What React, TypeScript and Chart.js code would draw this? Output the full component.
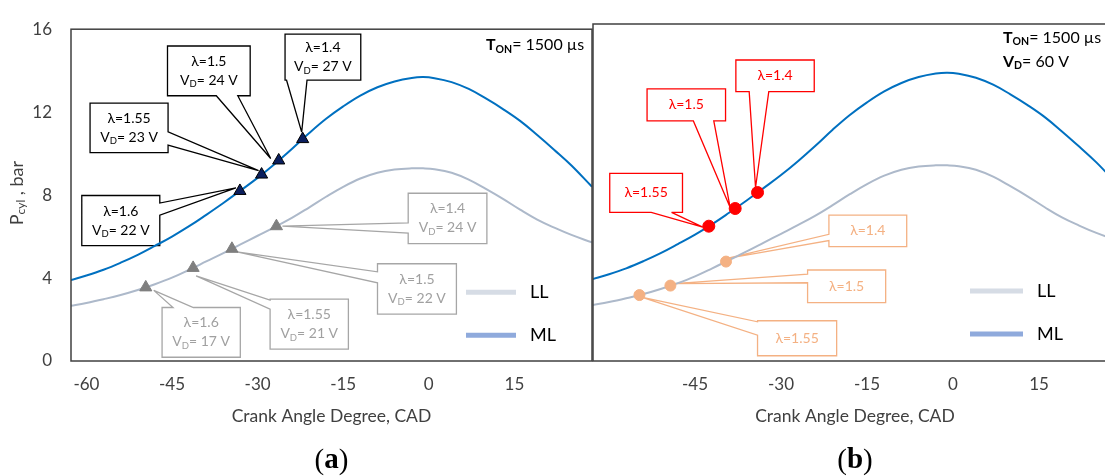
import React, { useEffect, useRef } from 'react';
import { Chart, registerables } from 'chart.js';
Chart.register(...registerables);

const FONT = 'Lato, "Open Sans", sans-serif';
const SERIF = '"Liberation Serif", "DejaVu Serif", serif';

// ---------- data ----------
const CAD = [-63, -60, -57, -54, -51, -48, -45, -42, -39, -36, -33, -30, -27, -24, -21, -18, -15, -12, -9, -6, -3, -1, 1, 4, 7, 10, 13, 16, 19, 22, 25, 28.6];
const P_ML = [3.88, 4.12, 4.40, 4.74, 5.12, 5.55, 6.00, 6.50, 7.05, 7.62, 8.22, 8.83, 9.50, 10.22, 10.98, 11.68, 12.28, 12.80, 13.20, 13.48, 13.65, 13.69, 13.64, 13.45, 13.12, 12.66, 12.15, 11.58, 10.90, 10.18, 9.43, 8.40];
const P_LL = [2.65, 2.80, 2.98, 3.18, 3.42, 3.70, 4.02, 4.40, 4.80, 5.20, 5.62, 6.04, 6.46, 6.90, 7.40, 7.92, 8.40, 8.80, 9.08, 9.23, 9.29, 9.29, 9.25, 9.08, 8.75, 8.30, 7.82, 7.30, 6.82, 6.43, 6.08, 5.72];

const X_TICKS_A = [-60, -45, -30, -15, 0, 15];
const X_TICKS_B = [-45, -30, -15, 0, 15];
const Y_TICKS = [0, 4, 8, 12, 16];

// panel (a) markers
const A_ML_LAMBDA = ['1.6', '1.55', '1.5', '1.4'];
const A_ML_VD = [22, 23, 24, 27];
const A_ML_CAD = [-33.1, -29.3, -26.3, -22.1];
const A_ML_P = [8.20, 8.99, 9.67, 10.70];

const A_LL_LAMBDA = ['1.6', '1.55', '1.5', '1.4'];
const A_LL_VD = [17, 21, 22, 24];
const A_LL_CAD = [-49.6, -41.3, -34.5, -26.7];
const A_LL_P = [3.55, 4.49, 5.41, 6.50];

// panel (b) markers
const B_ML_LAMBDA = ['1.55', '1.5', '1.4'];
const B_ML_CAD = [-42.6, -38.0, -34.1];
const B_ML_P = [6.40, 7.24, 8.00];

const B_LL_LAMBDA = ['1.4', '1.5', '1.55'];
const B_LL_CAD = [-39.6, -49.3, -54.7];
const B_LL_P = [4.72, 3.58, 3.13];

// ---------- callout layout (box in axis units: x1, x2, yTop, yBottom) ----------
type Side = 'top' | 'bottom' | 'left' | 'right';
type CalloutLayout = { box: [number, number, number, number]; side: Side; base: [number, number]; tip: [number, number] };

const A_ML_CALLOUTS: CalloutLayout[] = [
  { box: [-60.81, -47.14, 7.98, 5.56], side: 'right', base: [0.15, 0.39], tip: [-4, -3] },
  { box: [-59.36, -45.69, 12.44, 10.05], side: 'right', base: [0.58, 0.85], tip: [-3, -4] },
  { box: [-45.79, -31.30, 15.19, 12.79], side: 'bottom', base: [0.59, 0.85], tip: [-8, -2] },
  { box: [-25.19, -11.92, 15.76, 13.54], side: 'bottom', base: [0.02, 0.29], tip: [-1, -7] },
];
const A_LL_CALLOUTS: CalloutLayout[] = [
  { box: [-46.74, -33.03, 2.58, 0.18], side: 'top', base: [0.14, 0.40], tip: [8, 3] },
  { box: [-27.81, -14.09, 2.98, 0.57], side: 'left', base: [0.02, 0.2], tip: [3, 8] },
  { box: [-8.99, 4.84, 4.69, 2.26], side: 'left', base: [0.16, 0.38], tip: [5, 3] },
  { box: [-3.61, 10.18, 8.09, 5.66], side: 'left', base: [0.59, 0.79], tip: [6, 0] },
];
const B_ML_CALLOUTS: CalloutLayout[] = [
  { box: [-59.88, -47.19, 8.91, 7.06], side: 'bottom', base: [0.57, 0.85], tip: [-6, 1] },
  { box: [-53.37, -39.68, 12.92, 11.40], side: 'bottom', base: [0.59, 0.85], tip: [-5, -1] },
  { box: [-37.88, -24.21, 14.29, 12.79], side: 'bottom', base: [0.17, 0.42], tip: [-2, -5] },
];
const B_LL_CALLOUTS: CalloutLayout[] = [
  { box: [-21.65, -8.08, 6.93, 5.43], side: 'left', base: [0.61, 0.81], tip: [0, -3] },
  { box: [-25.37, -11.75, 4.32, 2.77], side: 'left', base: [0.13, 0.39], tip: [4, -2] },
  { box: [-34.10, -20.30, 1.91, 0.25], side: 'left', base: [0.03, 0.41], tip: [2, 2] },
];

// ---------- text helpers ----------
type Run = { t: string; size: number; bold?: boolean; dy?: number; family?: string };

function setFont(ctx: CanvasRenderingContext2D, r: Run) {
  ctx.font = `${r.bold ? 'bold ' : ''}${r.size}px ${r.family || FONT}`;
}
function runsWidth(ctx: CanvasRenderingContext2D, runs: Run[]) {
  let w = 0;
  for (const r of runs) { setFont(ctx, r); w += ctx.measureText(r.t).width; }
  return w;
}
function drawRuns(ctx: CanvasRenderingContext2D, runs: Run[], x: number, y: number, align: 'left' | 'center', color: string) {
  const w = runsWidth(ctx, runs);
  let cx = align === 'center' ? x - w / 2 : x;
  ctx.fillStyle = color;
  ctx.textAlign = 'left';
  ctx.textBaseline = 'middle';
  for (const r of runs) {
    setFont(ctx, r);
    ctx.fillText(r.t, cx, y + (r.dy || 0));
    cx += ctx.measureText(r.t).width;
  }
}

function calloutPath(ctx: CanvasRenderingContext2D, x1: number, y1: number, x2: number, y2: number, side: Side, a: number, b: number, tx: number, ty: number) {
  const ax = x1 + (x2 - x1) * a, bx = x1 + (x2 - x1) * b;
  const ay = y1 + (y2 - y1) * a, by = y1 + (y2 - y1) * b;
  ctx.beginPath();
  ctx.moveTo(x1, y1);
  if (side === 'top') { ctx.lineTo(ax, y1); ctx.lineTo(tx, ty); ctx.lineTo(bx, y1); }
  ctx.lineTo(x2, y1);
  if (side === 'right') { ctx.lineTo(x2, ay); ctx.lineTo(tx, ty); ctx.lineTo(x2, by); }
  ctx.lineTo(x2, y2);
  if (side === 'bottom') { ctx.lineTo(bx, y2); ctx.lineTo(tx, ty); ctx.lineTo(ax, y2); }
  ctx.lineTo(x1, y2);
  if (side === 'left') { ctx.lineTo(x1, by); ctx.lineTo(tx, ty); ctx.lineTo(x1, ay); }
  ctx.closePath();
}

type CalloutGroup = {
  layout: CalloutLayout[];
  cad: number[];
  p: number[];
  color: string;
  textColor: string;
  lines: (i: number) => Run[][];
};

type PanelCfg = {
  yTitle: boolean;
  caption: string;
  legend: { x1: number; x2: number; tx: number; yLL: number; yML: number };
  info: { x: number; y: number; runs: Run[] }[];
  groups: CalloutGroup[];
};

const lambdaLine = (l: string): Run[] => [{ t: `λ=${l}`, size: 14 }];
const vdLine = (v: number): Run[] => [{ t: 'V', size: 14 }, { t: 'D', size: 9.5, dy: 4 }, { t: `= ${v} V`, size: 14 }];

const makeDeco = (cfg: PanelCfg) => ({
  id: 'deco',
  beforeDatasetsDraw(chart: any) {
    const { ctx } = chart;
    const xs = chart.scales.x, ys = chart.scales.y;
    for (const g of cfg.groups) {
      g.layout.forEach((c, i) => {
        const x1 = xs.getPixelForValue(c.box[0]), x2 = xs.getPixelForValue(c.box[1]);
        const y1 = ys.getPixelForValue(c.box[2]), y2 = ys.getPixelForValue(c.box[3]);
        const tx = xs.getPixelForValue(g.cad[i]) + c.tip[0];
        const ty = ys.getPixelForValue(g.p[i]) + c.tip[1];
        ctx.save();
        calloutPath(ctx, x1, y1, x2, y2, c.side, c.base[0], c.base[1], tx, ty);
        ctx.fillStyle = '#ffffff';
        ctx.fill();
        ctx.strokeStyle = g.color;
        ctx.lineWidth = 1.3;
        ctx.lineJoin = 'miter';
        ctx.miterLimit = 3;
        ctx.stroke();
        const lines = g.lines(i);
        const cx = (x1 + x2) / 2, cy = (y1 + y2) / 2;
        lines.forEach((runs, k) => drawRuns(ctx, runs, cx, cy + (k - (lines.length - 1) / 2) * 19, 'center', g.textColor));
        ctx.restore();
      });
    }
  },
  afterDraw(chart: any) {
    const { ctx, chartArea: ca } = chart;
    ctx.save();
    // frame
    ctx.strokeStyle = '#404040';
    ctx.lineWidth = 1.5;
    ctx.strokeRect(ca.left, ca.top, ca.right - ca.left, ca.bottom - ca.top);
    // legend
    const L = cfg.legend;
    ctx.lineWidth = 5;
    ctx.lineCap = 'butt';
    ctx.strokeStyle = '#D6DCE5';
    ctx.beginPath(); ctx.moveTo(ca.left + L.x1, ca.top + L.yLL); ctx.lineTo(ca.left + L.x2, ca.top + L.yLL); ctx.stroke();
    ctx.strokeStyle = '#8FAADC';
    ctx.beginPath(); ctx.moveTo(ca.left + L.x1, ca.top + L.yML); ctx.lineTo(ca.left + L.x2, ca.top + L.yML); ctx.stroke();
    drawRuns(ctx, [{ t: 'LL', size: 18 }], ca.left + L.tx, ca.top + L.yLL, 'left', '#000');
    drawRuns(ctx, [{ t: 'ML', size: 18 }], ca.left + L.tx, ca.top + L.yML, 'left', '#000');
    // info text
    for (const it of cfg.info) drawRuns(ctx, it.runs, ca.left + it.x, ca.top + it.y, 'left', '#000');
    // x title + caption
    const mid = (ca.left + ca.right) / 2;
    drawRuns(ctx, [{ t: 'Crank Angle Degree, CAD', size: 17.5 }], mid, ca.bottom + 55, 'center', '#404040');
    drawRuns(ctx, [
      { t: '(', size: 29, family: SERIF },
      { t: cfg.caption, size: 29, bold: true, family: SERIF },
      { t: ')', size: 29, family: SERIF },
    ], mid, ca.bottom + 100, 'center', '#000');
    // y title
    if (cfg.yTitle) {
      ctx.translate(17, (ca.top + ca.bottom) / 2 - 2);
      ctx.rotate(-Math.PI / 2);
      drawRuns(ctx, [{ t: 'P', size: 18 }, { t: 'cyl', size: 12, dy: 4 }, { t: ' , bar', size: 18 }], 0, 0, 'center', '#404040');
    }
    ctx.restore();
  },
});

const pts = (xs: number[], ys: number[]) => xs.map((x, i) => ({ x, y: ys[i] }));

function buildChart(canvas: HTMLCanvasElement, opt: {
  xMin: number; xMax: number; xTicks: number[]; showY: boolean; pad: { left: number; right: number };
  markers: any[]; cfg: PanelCfg;
}) {
  const lineDs = [
    { label: 'ML', data: pts(CAD, P_ML), borderColor: '#0070C0', borderWidth: 2, pointRadius: 0, tension: 0.4, fill: false },
    { label: 'LL', data: pts(CAD, P_LL), borderColor: '#ADB9CA', borderWidth: 2, pointRadius: 0, tension: 0.4, fill: false },
  ];
  return new Chart(canvas, {
    type: 'line',
    data: { datasets: [...opt.markers, ...lineDs] as any },
    options: {
      responsive: false,
      maintainAspectRatio: false,
      animation: false,
      events: [],
      layout: { padding: { left: opt.pad.left, right: opt.pad.right, top: 24, bottom: 0 } },
      plugins: { legend: { display: false }, tooltip: { enabled: false } },
      scales: {
        x: {
          type: 'linear', min: opt.xMin, max: opt.xMax,
          grid: { display: false, drawTicks: false }, border: { display: false },
          ticks: { padding: 13, color: '#404040', font: { family: FONT, size: 17 } },
          afterBuildTicks: (s: any) => { s.ticks = opt.xTicks.map(v => ({ value: v })); },
          afterFit: (s: any) => { s.height = 115; },
        },
        y: {
          type: 'linear', min: 0, max: 16, display: opt.showY,
          grid: { display: false, drawTicks: false }, border: { display: false },
          ticks: { padding: 19, color: '#404040', font: { family: FONT, size: 17 } },
          afterBuildTicks: (s: any) => { s.ticks = Y_TICKS.map(v => ({ value: v })); },
          afterFit: (s: any) => { s.width = opt.showY ? 71 : 0; },
        },
      },
    } as any,
    plugins: [makeDeco(opt.cfg) as any],
  });
}

const infoRuns = (head: string, sub: string, rest: string): Run[] => [
  { t: head, size: 16, bold: true },
  { t: sub, size: 10.5, bold: true, dy: 4 },
  { t: rest, size: 16 },
];

export default function App() {
  const leftRef = useRef<HTMLCanvasElement>(null);
  const rightRef = useRef<HTMLCanvasElement>(null);

  useEffect(() => {
    const cfgA: PanelCfg = {
      yTitle: true,
      caption: 'a',
      legend: { x1: 395, x2: 445, tx: 459, yLL: 263, yML: 306 },
      info: [{ x: 415, y: 16, runs: infoRuns('T', 'ON', '= 1500 µs') }],
      groups: [
        { layout: A_ML_CALLOUTS, cad: A_ML_CAD, p: A_ML_P, color: '#000000', textColor: '#000000', lines: i => [lambdaLine(A_ML_LAMBDA[i]), vdLine(A_ML_VD[i])] },
        { layout: A_LL_CALLOUTS, cad: A_LL_CAD, p: A_LL_P, color: '#A6A6A6', textColor: '#A0A0A0', lines: i => [lambdaLine(A_LL_LAMBDA[i]), vdLine(A_LL_VD[i])] },
      ],
    };
    const cfgB: PanelCfg = {
      yTitle: false,
      caption: 'b',
      legend: { x1: 377, x2: 430, tx: 444, yLL: 267, yML: 310 },
      info: [
        { x: 410, y: 14, runs: infoRuns('T', 'ON', '= 1500 µs') },
        { x: 410, y: 38, runs: infoRuns('V', 'D', '= 60 V') },
      ],
      groups: [
        { layout: B_ML_CALLOUTS, cad: B_ML_CAD, p: B_ML_P, color: '#FF0000', textColor: '#FF0000', lines: i => [lambdaLine(B_ML_LAMBDA[i])] },
        { layout: B_LL_CALLOUTS, cad: B_LL_CAD, p: B_LL_P, color: '#F4B183', textColor: '#F4B183', lines: i => [lambdaLine(B_LL_LAMBDA[i])] },
      ],
    };

    const a = buildChart(leftRef.current!, {
      xMin: -62.7, xMax: 28.6, xTicks: X_TICKS_A, showY: true, pad: { left: 0, right: 6 },
      markers: [
        { label: 'ML λ', data: pts(A_ML_CAD, A_ML_P), showLine: false, pointStyle: 'triangle', pointRadius: 7, pointBackgroundColor: '#0B1F5E', pointBorderColor: '#000000', pointBorderWidth: 1 },
        { label: 'LL λ', data: pts(A_LL_CAD, A_LL_P), showLine: false, pointStyle: 'triangle', pointRadius: 7, pointBackgroundColor: '#7F7F7F', pointBorderColor: '#7F7F7F', pointBorderWidth: 1 },
      ],
      cfg: cfgA,
    });
    const b = buildChart(rightRef.current!, {
      xMin: -62.8, xMax: 28.6, xTicks: X_TICKS_B, showY: false, pad: { left: 33, right: 13 },
      markers: [
        { label: 'ML λ', data: pts(B_ML_CAD, B_ML_P), showLine: false, pointStyle: 'circle', pointRadius: 6, pointBackgroundColor: '#FF0000', pointBorderColor: '#FF0000', pointBorderWidth: 1 },
        { label: 'LL λ', data: pts(B_LL_CAD, B_LL_P), showLine: false, pointStyle: 'circle', pointRadius: 5.5, pointBackgroundColor: '#F4B183', pointBorderColor: '#F4B183', pointBorderWidth: 1 },
      ],
      cfg: cfgB,
    });
    return () => { a.destroy(); b.destroy(); };
  }, []);

  return (
    <div style={{ position: 'fixed', left: 0, top: 0, width: 1105, height: 476, overflow: 'hidden', background: '#ffffff' }}>
      <canvas ref={leftRef} width={600} height={476} style={{ position: 'absolute', left: 0, top: 0, width: 600, height: 476 }} />
      <canvas ref={rightRef} width={570} height={476} style={{ position: 'absolute', left: 560, top: 0, width: 570, height: 476 }} />
    </div>
  );
}
